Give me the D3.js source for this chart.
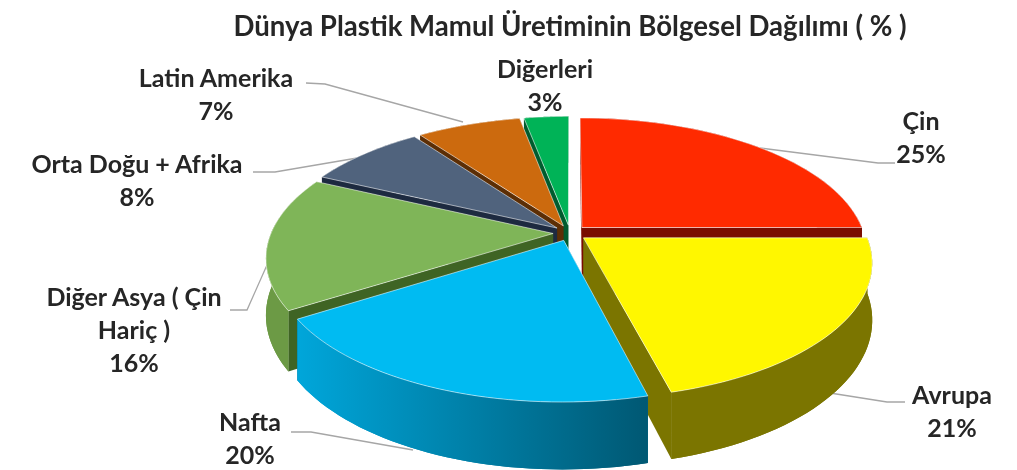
<!DOCTYPE html>
<html><head><meta charset="utf-8">
<script src="https://cdn.jsdelivr.net/npm/d3@7"></script>
<style>html,body{margin:0;padding:0;background:#fff;overflow:hidden}
text{font-family:Lato,Carlito,sans-serif;font-weight:700;fill:#262626}
svg{filter:blur(0.45px)}</style></head><body><svg id="c" width="1017" height="470"></svg>
<script>
const categories=["Çin","Avrupa","Nafta","Diğer Asya ( Çin Hariç )","Orta Doğu + Afrika","Latin Amerika","Diğerleri"];
const shares=[25,21,20,16,8,7,3];
const titleText="Dünya Plastik Mamul Üretiminin Bölgesel Dağılımı ( % )";
const topColors=["#ff2a00","#fff700","#00bbf2","#7fb558","#50637d","#cc6a0e","#00b357"];
const edgeColors=["#7a0c00","#7b7500","#00759b","#3f6424","#1d2a40","#5c2e05","#005c2e"];
const wallColors=["#7a0c00","#7b7500","url(#blueWall)","#6c9a45","#3c4a5e","#8a4809","#007a3b"];
const labelLines=[["Çin","25%"],["Avrupa","21%"],["Nafta","20%"],["Diğer Asya ( Çin","Hariç )","16%"],["Orta Doğu + Afrika","8%"],["Latin Amerika","7%"],["Diğerleri","3%"]];
const labelAnchors=[[921,130],[952,404],[250,431],[134,306],[137,173],[216,87],[545,78]];
const leaders=[[[760,148],[878,163],[895,163]],[[830,393],[887,402],[905,402]],[[413,450],[311,432],[291,432]],
 [[267,265],[247,310],[230,310]],[[363,157],[275,172],[253,172]],[[463,122],[325,84],[306,83]],[]];
const paintOrder=[0,6,5,4,3,1,2];

const cx=570,cy=233,R=282,H=130.5,K=0.175,D=55,explode=0.06;
const svg=d3.select("#c");
const grad=svg.append("defs").append("linearGradient").attr("id","blueWall");
grad.append("stop").attr("offset","0").attr("stop-color","#00a6da");
grad.append("stop").attr("offset","1").attr("stop-color","#005873");

svg.append("text").attr("x",570).attr("y",36).attr("text-anchor","middle").attr("font-size",27.6).text(titleText);

const arcs=d3.pie().sort(null).value(d=>d)(shares);
function proj(u,v,z){const s=1/(1-K*v);return [cx+R*u*s,cy+(H*v+D*z)*s];}
function pt(a,r,d,z){
  const m=(d.startAngle+d.endAngle)/2;
  const u=r*Math.sin(a)+explode*Math.sin(m), v=-r*Math.cos(a)-explode*Math.cos(m);
  return proj(u,v,z);
}
const line=d3.line();
function arcPts(d,z){const n=40;return d3.range(n+1).map(i=>pt(d.startAngle+(d.endAngle-d.startAngle)*i/n,1,d,z));}
function radial(d,a){return [pt(a,0,d,0),pt(a,1,d,0),pt(a,1,d,1),pt(a,0,d,1)];}

leaders.forEach(p=>{ if(p.length) svg.append("path").attr("d",line(p)).attr("fill","none").attr("stroke","#a6a6a6").attr("stroke-width",1.3);});

paintOrder.forEach(i=>{
  const d=arcs[i],g=svg.append("g");
  g.append("path").attr("d",line(arcPts(d,0).concat(arcPts(d,1).reverse()))+"Z").attr("fill",wallColors[i]);
  [d.startAngle,d.endAngle].forEach(a=>{
    g.append("path").attr("d",line(radial(d,a))+"Z").attr("fill",edgeColors[i]);
  });
  const fa=arcPts(d,0),fb=arcPts(d,1);
  const keep=fa.map((p,k)=>k).filter(k=>{const a=d.startAngle+(d.endAngle-d.startAngle)*k/40;return Math.cos(a)<0.1;});
  if(keep.length>1){
    g.append("path").attr("d",line(keep.map(k=>fa[k]).concat(keep.map(k=>fb[k]).reverse()))+"Z").attr("fill",wallColors[i]);
  }
  g.append("path").attr("d",line([pt(d.startAngle,0,d,0)].concat(fa))+"Z")
    .attr("fill",topColors[i]).attr("stroke","#ffffff").attr("stroke-opacity",0.7).attr("stroke-width",0.8);
});

labelLines.forEach((ls,i)=>{
  const t=svg.append("text").attr("text-anchor","middle").attr("font-size",25).attr("aria-label",categories[i]);
  ls.forEach((s,k)=>t.append("tspan").attr("x",labelAnchors[i][0]).attr("y",labelAnchors[i][1]+k*33).text(s));
});
</script></body></html>
